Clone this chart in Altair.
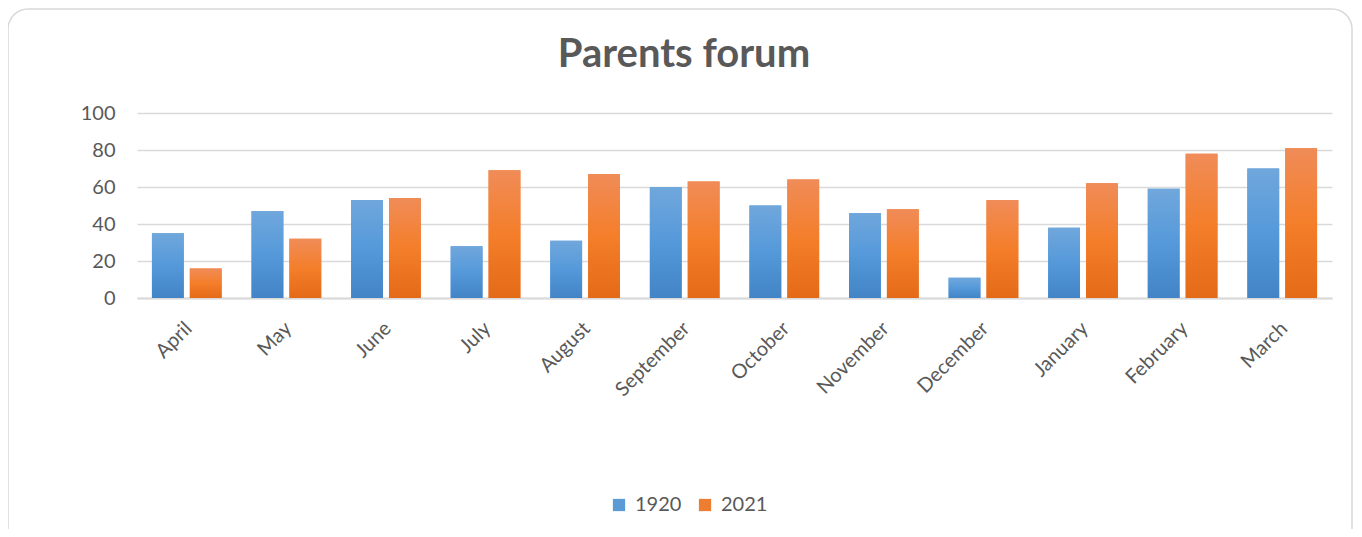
import altair as alt
import pandas as pd

months = ["April", "May", "June", "July", "August", "September", "October",
          "November", "December", "January", "February", "March"]
series = ["1920", "2021"]
v1920 = [35, 47, 53, 28, 31, 60, 50, 46, 11, 38, 59, 70]
v2021 = [16, 32, 54, 69, 67, 63, 64, 48, 53, 62, 78, 81]
y_ticks = [0, 20, 40, 60, 80, 100]
title_text = ["Parents forum"]

rows = []
for m, a, b in zip(months, v1920, v2021):
    rows.append({"month": m, "series": "1920", "value": a})
    rows.append({"month": m, "series": "2021", "value": b})
df = pd.DataFrame(rows)

FONT = "Lato"
GREY = "#595959"

blue_grad = alt.Gradient(gradient="linear", x1=0, x2=0, y1=0, y2=1,
                         stops=[alt.GradientStop(color="#70A7DC", offset=0),
                                alt.GradientStop(color="#5599DA", offset=0.5),
                                alt.GradientStop(color="#4284C6", offset=1)])
orange_grad = alt.Gradient(gradient="linear", x1=0, x2=0, y1=0, y2=1,
                           stops=[alt.GradientStop(color="#F08C58", offset=0),
                                  alt.GradientStop(color="#F47E2A", offset=0.5),
                                  alt.GradientStop(color="#E46A17", offset=1)])

base = alt.Chart(df).encode(
    x=alt.X("month:N", sort=months, title=None,
            scale=alt.Scale(paddingInner=0.3, paddingOuter=0.15),
            axis=alt.Axis(labelAngle=-45, labelFont=FONT, labelFontSize=20,
                          labelColor=GREY, ticks=False, domain=True,
                          domainColor="#d9d9d9", domainWidth=2, labelPadding=20,
                          labelOffset=-5)),
    xOffset=alt.XOffset("series:N", scale=alt.Scale(domain=series, paddingInner=0.16)),
    y=alt.Y("value:Q", title=None, scale=alt.Scale(domain=[0, 100]),
            axis=alt.Axis(values=y_ticks, labelFont=FONT, labelFontSize=20,
                          labelColor=GREY, ticks=False, domain=False,
                          gridColor="#d9d9d9", gridWidth=1.5, labelPadding=22)),
)

legend_bars = base.mark_bar().encode(
    color=alt.Color("series:N",
                    scale=alt.Scale(domain=series, range=["#5B9BD5", "#ED7D31"]),
                    legend=alt.Legend(title=None, orient="none", direction="horizontal",
                                      legendX=472, legendY=382,
                                      symbolType="square", symbolSize=150,
                                      symbolStrokeWidth=0,
                                      labelFont=FONT, labelFontSize=20, labelColor=GREY,
                                      columnPadding=13, labelOffset=6))
)
blue = base.transform_filter(alt.datum.series == "1920").mark_bar(color=blue_grad)
orange = base.transform_filter(alt.datum.series == "2021").mark_bar(color=orange_grad)

border = alt.Chart(pd.DataFrame({"a": [0]})).mark_rect(
    fillOpacity=0, stroke="#d9d9d9", strokeWidth=1.5, cornerRadius=20
).encode(x=alt.value(-129), x2=alt.value(1215), y=alt.value(-104), y2=alt.value(445))

title = alt.Chart(pd.DataFrame({"t": title_text})).mark_text(
    font=FONT, fontSize=40, fontWeight="bold", color=GREY,
    align="center", baseline="alphabetic"
).encode(text="t:N", x=alt.value(547), y=alt.value(-46))

chart = alt.layer(border, legend_bars, blue, orange, title).properties(
    width=1195, height=185,
    padding={"left": 129, "top": 105, "right": 22, "bottom": 231},
    autosize=alt.AutoSizeParams(type="none"),
).configure(background="white").configure_view(stroke=None)

chart.save("out.html", embed_options={"renderer": "svg", "actions": False})
